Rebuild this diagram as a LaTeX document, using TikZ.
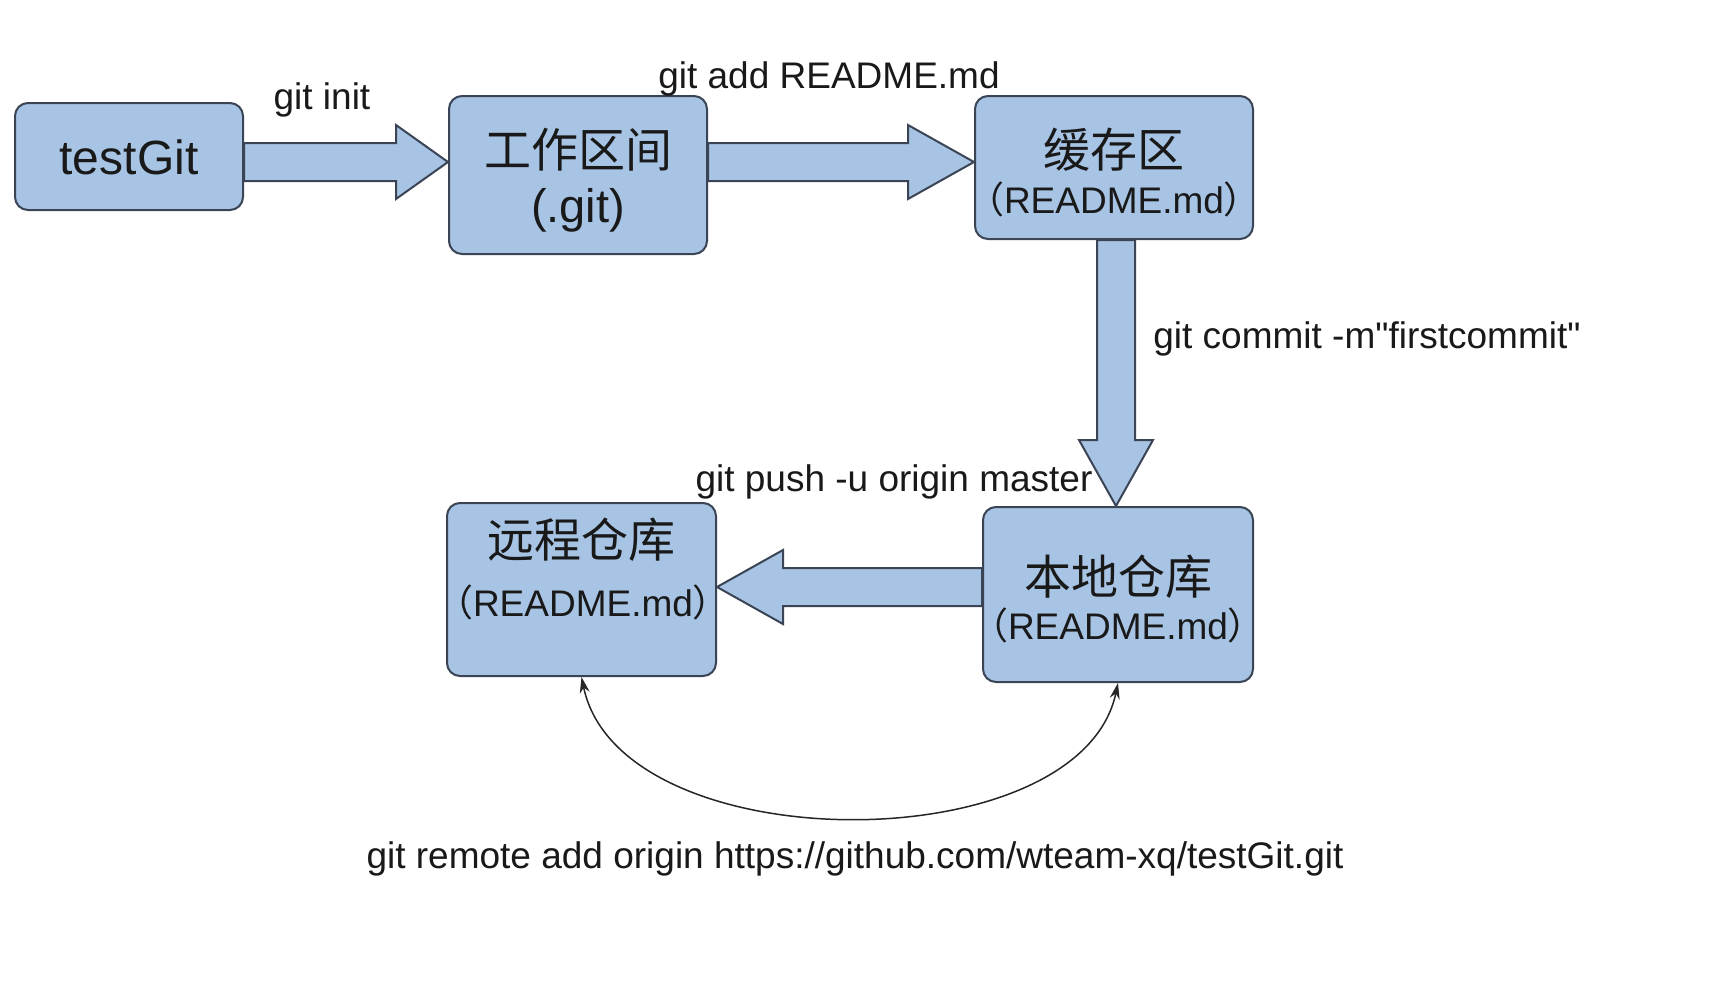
\documentclass[tikz,border=0pt]{standalone}
\usepackage{fontspec}
\setmainfont{Liberation Sans}
\newfontfamily\plainsans{Liberation Sans}
\newfontfamily\cjk{Noto Sans CJK SC}
\usetikzlibrary{calc,arrows.meta}
\definecolor{boxfill}{RGB}{167,196,228}
\definecolor{boxline}{RGB}{58,68,84}
\definecolor{txt}{RGB}{25,25,25}
\begin{document}
\begin{tikzpicture}[x=0.5pt,y=-0.5pt,
  box/.style={draw=boxline, line width=1pt, fill=boxfill, rounded corners=6.5pt, inner sep=0pt},
  big/.style={font=\fontsize{23.5}{28}\selectfont, text=txt, inner sep=0pt},
  mid/.style={font=\fontsize{18.5}{22}\selectfont, text=txt, inner sep=0pt},
  blockarrow/.style={draw=boxline, line width=1pt, fill=boxfill, line join=miter},
  link/.style={draw=black!85, line width=0.75pt, {Stealth[length=8pt,width=5pt]}-{Stealth[length=8pt,width=5pt]}}
]
\useasboundingbox[fill=white] (0,0) rectangle (1714,986);

% boxes
\node[box, minimum width=114pt, minimum height=53.5pt] (tg) at (129,156.5) {};
\node[box, minimum width=129pt, minimum height=79pt] (wk) at (578,175) {};
\node[box, minimum width=139pt, minimum height=71.5pt] (ca) at (1114,167.5) {};
\node[box, minimum width=135pt, minimum height=87.5pt] (lo) at (1118,594.5) {};
\node[box, minimum width=134.5pt, minimum height=86.5pt] (re) at (581.5,589.5) {};

% box texts
\node[font=\fontsize{24}{28}\selectfont, text=txt, inner sep=0pt] (tgT) at (129,157) {testGit};
\node[big] (wkT1) at (578,150) {\cjk 工作区间};
\node[big] (wkT2) at (578,210) {(.git)};
\node[big] (caT1) at (1114,150) {\cjk 缓存区};
\node[mid] (caT2) at (1114,199) {{\cjk （}README.md{\cjk ）}};
\node[big] (loT1) at (1118,577) {\cjk 本地仓库};
\node[mid] (loT2) at (1118,625) {{\cjk （}README.md{\cjk ）}};
\node[big] (reT1) at (581.5,540) {\cjk 远程仓库};
\node[mid] (reT2) at (583,602) {{\cjk （}README.md{\cjk ）}};

% block arrow 1: tg -> wk
\coordinate (a1s) at (tg.east |- 0,162);
\coordinate (a1t) at (wk.west |- 0,162);
\draw[blockarrow] ($(a1s)+(0,-19)$) -- ($(a1t)+(-52,-19)$) -- ($(a1t)+(-52,-37)$) -- (a1t)
  -- ($(a1t)+(-52,37)$) -- ($(a1t)+(-52,19)$) -- ($(a1s)+(0,19)$) -- cycle;
% block arrow 2: wk -> ca
\coordinate (a2s) at (wk.east |- 0,162);
\coordinate (a2t) at (ca.west |- 0,162);
\draw[blockarrow] ($(a2s)+(0,-19)$) -- ($(a2t)+(-66,-19)$) -- ($(a2t)+(-66,-37)$) -- (a2t)
  -- ($(a2t)+(-66,37)$) -- ($(a2t)+(-66,19)$) -- ($(a2s)+(0,19)$) -- cycle;
% block arrow 3: ca -> lo
\coordinate (a3s) at (1116,0 |- ca.south);
\coordinate (a3t) at (1116,0 |- lo.north);
\draw[blockarrow] ($(a3s)+(-19,0)$) -- ($(a3t)+(-19,-66)$) -- ($(a3t)+(-37,-66)$) -- (a3t)
  -- ($(a3t)+(37,-66)$) -- ($(a3t)+(19,-66)$) -- ($(a3s)+(19,0)$) -- cycle;
% block arrow 4: lo -> re
\coordinate (a4s) at (lo.west |- 0,587);
\coordinate (a4t) at (re.east |- 0,587);
\draw[blockarrow] ($(a4s)+(0,-19)$) -- ($(a4t)+(66,-19)$) -- ($(a4t)+(66,-37)$) -- (a4t)
  -- ($(a4t)+(66,37)$) -- ($(a4t)+(66,19)$) -- ($(a4s)+(0,19)$) -- cycle;

% curved link
\draw[link] (re.south) .. controls (620,863) and (1080,863) .. (lo.south);

% labels
\node[mid] (l1) at (322,99.5) {git init};
\node[mid, anchor=west] (l3) at (1153,338.5) {\plainsans git commit -m"firstcommit"};
\node[mid] (l2) at (829,78.5) {git add README.md};
\node[mid] (l4) at (894,482) {git push -u origin master};
\node[mid] (l5) at (855,858.5) {git remote add origin https://github.com/wteam-xq/testGit.git};
\end{tikzpicture}
\end{document}
